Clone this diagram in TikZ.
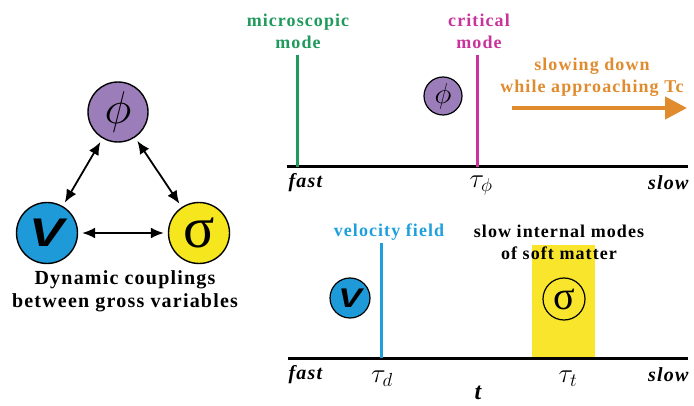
\documentclass[tikz,border=0pt]{standalone}
\usepackage{fix-cm}
\usepackage{fontspec}
\setmainfont{Liberation Serif}
\newfontfamily\lblfont[LetterSpace=6]{Liberation Serif}
\newfontfamily\vfont{Liberation Sans}
\usetikzlibrary{arrows.meta,positioning}
\definecolor{phiCol}{HTML}{9B7DBA}
\definecolor{velCol}{HTML}{1E9AD8}
\definecolor{sigCol}{HTML}{F6E61E}
\definecolor{bandCol}{HTML}{F8E52C}
\definecolor{microCol}{HTML}{1F9A5C}
\definecolor{critCol}{HTML}{C9339B}
\definecolor{slowCol}{HTML}{E08B2E}
\definecolor{fieldCol}{HTML}{1FA0DC}
\tikzset{
  var/.style={circle, draw, line width=1.4pt, inner sep=0pt, minimum size=#1},
  lbl/.style={font=\lblfont\bfseries\fontsize{18}{22}\selectfont, align=center},
  biglbl/.style={font=\lblfont\bfseries\fontsize{20}{23}\selectfont, align=center},
  ends/.style={font=\lblfont\bfseries\itshape\fontsize{20}{20}\selectfont},
  tick/.style={font=\fontsize{27}{27}\selectfont},
  axis/.style={line width=3pt},
  mode/.style={line width=3pt},
  couple/.style={{Latex[length=13pt,width=11pt]}-{Latex[length=13pt,width=11pt]}, line width=1.8pt,
                 shorten <=4pt, shorten >=4pt},
}
\newcommand{\phisym}[1]{\fontsize{#1}{#1}\selectfont$\phi$}
\newcommand{\sigsym}[1]{\fontsize{#1}{#1}\selectfont σ}
\newcommand{\velsym}[1]{\scalebox{1.3}[1]{\vfont\bfseries\itshape\fontsize{#1}{#1}\selectfont V}}

\begin{document}
\begin{tikzpicture}[x=1pt,y=-1pt]
  \useasboundingbox (0,0) rectangle (694,406);

  % couplings triangle
  \node[var=60pt, fill=phiCol] (phi) at (118,112) {\phisym{46}};
  \node[var=61pt, fill=velCol] (vel) at (47,233) {\velsym{40}};
  \node[var=61pt, fill=sigCol] (sig) at (199,233) {\sigsym{58}};
  \draw[couple] (phi) -- (vel);
  \draw[couple] (phi) -- (sig);
  \draw[couple] (vel) -- (sig);
  \node[biglbl] (coupling) at (125,291) {Dynamic couplings\\between gross variables};

  % upper time axis: critical slowing down
  \coordinate (a0) at (287,167);
  \coordinate (a1) at (688,167);
  \draw[axis] (a0) -- (a1);
  \draw[mode, microCol] (297,55) -- (297,167);
  \draw[mode, critCol] (477,55) -- (477,167);
  \node[lbl, text=microCol] (micro) at (298,31) {microscopic\\mode};
  \node[lbl, text=critCol] (crit) at (479,31) {critical\\mode};
  \node[var=38pt, fill=phiCol, line width=1.2pt] (phiA) at (443,96) {\phisym{29}};
  \node[lbl, text=slowCol] (slowing) at (592,77) {slowing down\\while approaching Tc};
  \coordinate (s0) at (512,108);
  \coordinate (s1) at (687,108);
  \draw[slowCol, line width=4.5pt, -{Triangle[length=22pt,width=22pt]}] (s0) -- (s1);
  \node[ends, anchor=west] (fastA) at (285,183) {fast};
  \node[ends, anchor=east] (slowA) at (692,183) {slow};
  \node[tick] (tauphi) at (481,186) {$\tau_\phi$};

  % lower time axis: velocity field and soft modes
  \fill[bandCol] (532,245) rectangle (595,358);
  \coordinate (b0) at (288,358);
  \coordinate (b1) at (688,358);
  \draw[axis] (b0) -- (b1);
  \draw[mode, fieldCol] (381,243) -- (381,358);
  \node[lbl, text=fieldCol] (field) at (389,232) {velocity field};
  \node[lbl] (soft) at (559,242) {slow internal modes\\of soft matter};
  \node[var=40pt, fill=velCol, line width=1.2pt] (velB) at (350,298) {\velsym{27}};
  \node[var=42pt, line width=1.2pt] (sigB) at (564,299) {\sigsym{40}};
  \node[ends, anchor=west] (fastB) at (285,375) {fast};
  \node[ends, anchor=east] (slowB) at (692,375) {slow};
  \node[tick] (taud) at (382,379) {$\tau_d$};
  \node[tick] (taut) at (568,379) {$\tau_t$};
  \node[font=\bfseries\itshape\fontsize{24}{24}\selectfont, inner sep=1pt] (tlbl) at (478,393) {t};
\end{tikzpicture}
\end{document}
